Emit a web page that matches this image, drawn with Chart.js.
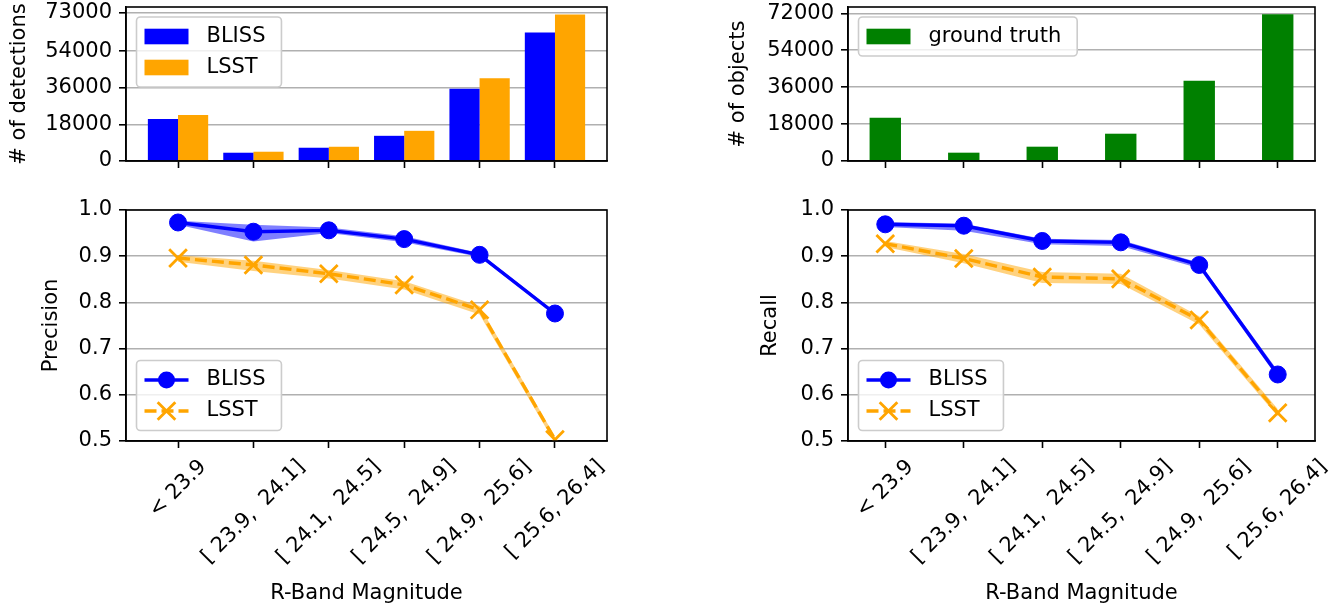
<!DOCTYPE html>
<html>
<head>
<meta charset="utf-8">
<script src="https://cdn.jsdelivr.net/npm/chart.js@4.4.0/dist/chart.umd.min.js"></script>
<style>
  body { margin: 0; background: #fff; }
  #fig { position: relative; width: 1342px; height: 609px; overflow: hidden; }
  #fig canvas { position: absolute; }
</style>
</head>
<body>
<div id="fig">
  <canvas id="detCanvas" width="660" height="185" style="left:0px;top:0px"></canvas>
  <canvas id="precCanvas" width="660" height="419" style="left:0px;top:190px"></canvas>
  <canvas id="truthCanvas" width="671" height="185" style="left:671px;top:0px"></canvas>
  <canvas id="recCanvas" width="671" height="419" style="left:671px;top:190px"></canvas>
</div>
<script>
  // magnitude bins shared by every panel
  const magBins = ['< 23.9', '[ 23.9,  24.1]', '[ 24.1,  24.5]', '[ 24.5,  24.9]', '[ 24.9,  25.6]', '[ 25.6, 26.4]'];
  const binPos = [0, 1, 2, 3, 4, 5];

  // top row: counts
  const blissCounts = [20700, 4070, 6520, 12380, 35500, 63200];
  const lsstCounts = [22650, 4560, 7000, 14830, 40700, 72000];
  const truthCounts = [21100, 4060, 6980, 13310, 39100, 71600];
  const detTicks = [0, 18000, 36000, 54000, 73000];
  const objTicks = [0, 18000, 36000, 54000, 72000];

  // bottom row: precision / recall and their shaded bands
  const rateTicks = [0.5, 0.6, 0.7, 0.8, 0.9, 1.0];
  const blissPrecision = [0.973, 0.953, 0.956, 0.937, 0.903, 0.776];
  const blissPrecisionLo = [0.968, 0.932, 0.950, 0.930, 0.898, 0.771];
  const blissPrecisionHi = [0.977, 0.968, 0.962, 0.943, 0.907, 0.780];
  const lsstPrecision = [0.896, 0.881, 0.862, 0.838, 0.784, 0.503];
  const lsstPrecisionLo = [0.888, 0.868, 0.852, 0.828, 0.774, 0.495];
  const lsstPrecisionHi = [0.902, 0.890, 0.870, 0.846, 0.792, 0.510];
  const blissRecall = [0.969, 0.966, 0.933, 0.930, 0.881, 0.644];
  const blissRecallLo = [0.963, 0.955, 0.926, 0.922, 0.874, 0.637];
  const blissRecallHi = [0.974, 0.970, 0.938, 0.935, 0.886, 0.652];
  const lsstRecall = [0.927, 0.895, 0.855, 0.851, 0.762, 0.561];
  const lsstRecallLo = [0.920, 0.885, 0.842, 0.840, 0.752, 0.553];
  const lsstRecallHi = [0.933, 0.905, 0.866, 0.862, 0.770, 0.569];

  const BLUE = '#0000ff', ORANGE = '#ffa500', GREEN = '#008000';
  const FSIZE = 21;
  const FONT = FSIZE + "px 'DejaVu Sans', sans-serif";

  Chart.defaults.font.family = "'DejaVu Sans', sans-serif";
  Chart.defaults.font.size = FSIZE;
  Chart.defaults.color = '#000';
  Chart.defaults.animation = false;
  Chart.defaults.events = [];
  Chart.defaults.plugins.legend.display = false;
  Chart.defaults.plugins.tooltip.enabled = false;

  function pts(vals) {
    return vals.map((v, i) => ({x: binPos[i], y: v}));
  }

  function fixTicks(vals) {
    return function(scale) {
      scale.ticks = vals.map(v => ({value: v}));
    };
  }

  function xScale(min, max, height, title) {
    return {
      type: 'linear', min: min, max: max, offset: false,
      afterBuildTicks: fixTicks(binPos),
      afterFit: s => { s.height = height; s.paddingLeft = 0; s.paddingRight = 0; },
      ticks: {display: false},
      grid: {drawOnChartArea: false, offset: false, tickLength: 7, tickWidth: 1.6, tickColor: '#000'},
      border: {color: '#000', width: 1.6},
      title: {display: !!title, text: title, padding: {top: 0, bottom: 3}}
    };
  }

  function yScale(min, max, ticks, fmt, width, title, titleX) {
    return {
      type: 'linear', min: min, max: max,
      afterBuildTicks: fixTicks(ticks),
      afterFit: s => { s.width = width; s.paddingTop = 0; s.paddingBottom = 0; },
      ticks: {padding: 7, autoSkip: false, callback: fmt},
      grid: {color: '#b0b0b0', lineWidth: 1.6, tickLength: 7, tickWidth: 1.6, tickColor: '#000'},
      border: {color: '#000', width: 1.6},
      title: {display: true, text: title, padding: {top: titleX - FSIZE * 0.6, bottom: 0}}
    };
  }

  function roundBox(ctx, x, y, w, h, r) {
    ctx.beginPath();
    ctx.moveTo(x + r, y);
    ctx.arcTo(x + w, y, x + w, y + h, r);
    ctx.arcTo(x + w, y + h, x, y + h, r);
    ctx.arcTo(x, y + h, x, y, r);
    ctx.arcTo(x, y, x + w, y, r);
    ctx.closePath();
  }

  // matplotlib style legend box
  function drawLegend(chart, where) {
    const ctx = chart.ctx, a = chart.chartArea;
    const items = chart.data.datasets.filter(d => d.inLegend);
    ctx.font = FONT;
    let textW = 0;
    items.forEach(d => { textW = Math.max(textW, ctx.measureText(d.label).width); });
    const bw = 8 + 44 + 18 + textW + 16;
    const bh = 39 + (items.length - 1) * 31;
    const bx = a.left + 10.5;
    const by = where === 'lower' ? a.bottom - 10.5 - bh : a.top + 10;
    roundBox(ctx, bx, by, bw, bh, 4);
    ctx.fillStyle = 'rgba(255,255,255,0.8)';
    ctx.fill();
    ctx.strokeStyle = '#cccccc';
    ctx.lineWidth = 1.6;
    ctx.stroke();
    items.forEach((d, k) => {
      const cy = by + 19.5 + k * 31;
      const hx = bx + 8;
      if (chart.config.type === 'bar') {
        ctx.fillStyle = d.backgroundColor;
        ctx.fillRect(hx, cy - 7.8, 44, 15.6);
      } else {
        ctx.strokeStyle = d.borderColor;
        ctx.lineWidth = d.borderWidth;
        ctx.setLineDash(d.borderDash || []);
        ctx.beginPath();
        ctx.moveTo(hx, cy);
        ctx.lineTo(hx + 44, cy);
        ctx.stroke();
        ctx.setLineDash([]);
        if (d.pointStyle === 'circle') {
          ctx.fillStyle = d.pointBackgroundColor;
          ctx.beginPath();
          ctx.arc(hx + 22, cy, d.pointRadius, 0, 2 * Math.PI);
          ctx.fill();
        } else {
          const r = d.pointRadius * Math.SQRT1_2;
          ctx.lineWidth = d.pointBorderWidth;
          ctx.beginPath();
          ctx.moveTo(hx + 22 - r, cy - r); ctx.lineTo(hx + 22 + r, cy + r);
          ctx.moveTo(hx + 22 - r, cy + r); ctx.lineTo(hx + 22 + r, cy - r);
          ctx.stroke();
        }
      }
      ctx.fillStyle = '#000';
      ctx.textAlign = 'left';
      ctx.textBaseline = 'middle';
      ctx.fillText(d.label, hx + 62, cy);
    });
  }

  // box around the axes, rotated bin labels and the legend
  function decor(legendWhere, withLabels) {
    return {
      id: 'decor',
      afterDraw(chart) {
        const ctx = chart.ctx, a = chart.chartArea;
        ctx.save();
        ctx.strokeStyle = '#000';
        ctx.lineWidth = 1.6;
        ctx.strokeRect(a.left, a.top, a.right - a.left, a.bottom - a.top);
        if (withLabels) {
          const xs = chart.scales.x;
          ctx.font = FONT;
          ctx.fillStyle = '#000';
          ctx.textAlign = 'center';
          ctx.textBaseline = 'middle';
          magBins.forEach((lab, i) => {
            const w = ctx.measureText(lab).width;
            const half = (w + FSIZE * 1.16) * Math.SQRT1_2 / 2;
            ctx.save();
            ctx.translate(xs.getPixelForValue(binPos[i]), a.bottom + 14 + half);
            ctx.rotate(-Math.PI / 4);
            ctx.fillText(lab, 0, 0);
            ctx.restore();
          });
        }
        drawLegend(chart, legendWhere);
        ctx.restore();
      }
    };
  }

  const countFmt = v => String(v);
  const rateFmt = v => v.toFixed(1);

  function lineSets(mainB, loB, hiB, mainL, loL, hiL) {
    return [
      {label: 'BLISS', inLegend: true, data: pts(mainB), borderColor: BLUE, borderWidth: 3.4,
       pointStyle: 'circle', pointRadius: 8.5, pointBackgroundColor: BLUE, pointBorderColor: BLUE,
       pointBorderWidth: 1, order: 1, clip: 0},
      {label: 'LSST', inLegend: true, data: pts(mainL), borderColor: ORANGE, borderWidth: 3.4,
       borderDash: [12, 5], pointStyle: 'crossRot', pointRadius: 12.5, pointBorderColor: ORANGE,
       pointBorderWidth: 2.8, order: 0, clip: 0},
      {label: 'BLISS hi', data: pts(hiB), borderColor: 'rgba(0,0,0,0)', borderWidth: 0, pointRadius: 0, fill: false, order: 3},
      {label: 'BLISS lo', data: pts(loB), borderColor: 'rgba(0,0,0,0)', borderWidth: 0, pointRadius: 0,
       fill: '-1', backgroundColor: 'rgba(0,0,255,0.5)', order: 3},
      {label: 'LSST hi', data: pts(hiL), borderColor: 'rgba(0,0,0,0)', borderWidth: 0, pointRadius: 0, fill: false, order: 2},
      {label: 'LSST lo', data: pts(loL), borderColor: 'rgba(0,0,0,0)', borderWidth: 0, pointRadius: 0,
       fill: '-1', backgroundColor: 'rgba(255,165,0,0.5)', order: 2}
    ];
  }

  // top left: detections
  new Chart(document.getElementById('detCanvas'), {
    type: 'bar',
    data: {
      datasets: [
        {label: 'BLISS', inLegend: true, data: pts(blissCounts), backgroundColor: BLUE,
         categoryPercentage: 0.8, barPercentage: 1.0},
        {label: 'LSST', inLegend: true, data: pts(lsstCounts), backgroundColor: ORANGE,
         categoryPercentage: 0.8, barPercentage: 1.0}
      ]
    },
    options: {
      responsive: false,
      layout: {padding: {left: 0, top: 7, right: 53, bottom: 0}},
      scales: {
        x: xScale(-0.69, 5.69, 24),
        y: yScale(0, 75700, detTicks, countFmt, 126, '# of detections', 20)
      }
    },
    plugins: [decor('upper', false)]
  });

  // top right: ground truth objects
  new Chart(document.getElementById('truthCanvas'), {
    type: 'bar',
    data: {
      datasets: [
        {label: 'ground truth', inLegend: true, data: pts(truthCounts), backgroundColor: GREEN,
         categoryPercentage: 0.4, barPercentage: 1.0}
      ]
    },
    options: {
      responsive: false,
      layout: {padding: {left: 0, top: 7, right: 27, bottom: 0}},
      scales: {
        x: xScale(-0.475, 5.475, 24),
        y: yScale(0, 75100, objTicks, countFmt, 177, '# of objects', 68)
      }
    },
    plugins: [decor('upper', false)]
  });

  // bottom left: precision
  new Chart(document.getElementById('precCanvas'), {
    type: 'line',
    data: {datasets: lineSets(blissPrecision, blissPrecisionLo, blissPrecisionHi, lsstPrecision, lsstPrecisionLo, lsstPrecisionHi)},
    options: {
      responsive: false,
      layout: {padding: {left: 0, top: 20, right: 53, bottom: 0}},
      scales: {
        x: xScale(-0.69, 5.69, 168, 'R-Band Magnitude'),
        y: yScale(0.5, 1.0, rateTicks, rateFmt, 126, 'Precision', 52)
      }
    },
    plugins: [decor('lower', true)]
  });

  // bottom right: recall
  new Chart(document.getElementById('recCanvas'), {
    type: 'line',
    data: {datasets: lineSets(blissRecall, blissRecallLo, blissRecallHi, lsstRecall, lsstRecallLo, lsstRecallHi)},
    options: {
      responsive: false,
      layout: {padding: {left: 0, top: 20, right: 27, bottom: 0}},
      scales: {
        x: xScale(-0.475, 5.475, 168, 'R-Band Magnitude'),
        y: yScale(0.5, 1.0, rateTicks, rateFmt, 177, 'Recall', 100)
      }
    },
    plugins: [decor('lower', true)]
  });
</script>
</body>
</html>
